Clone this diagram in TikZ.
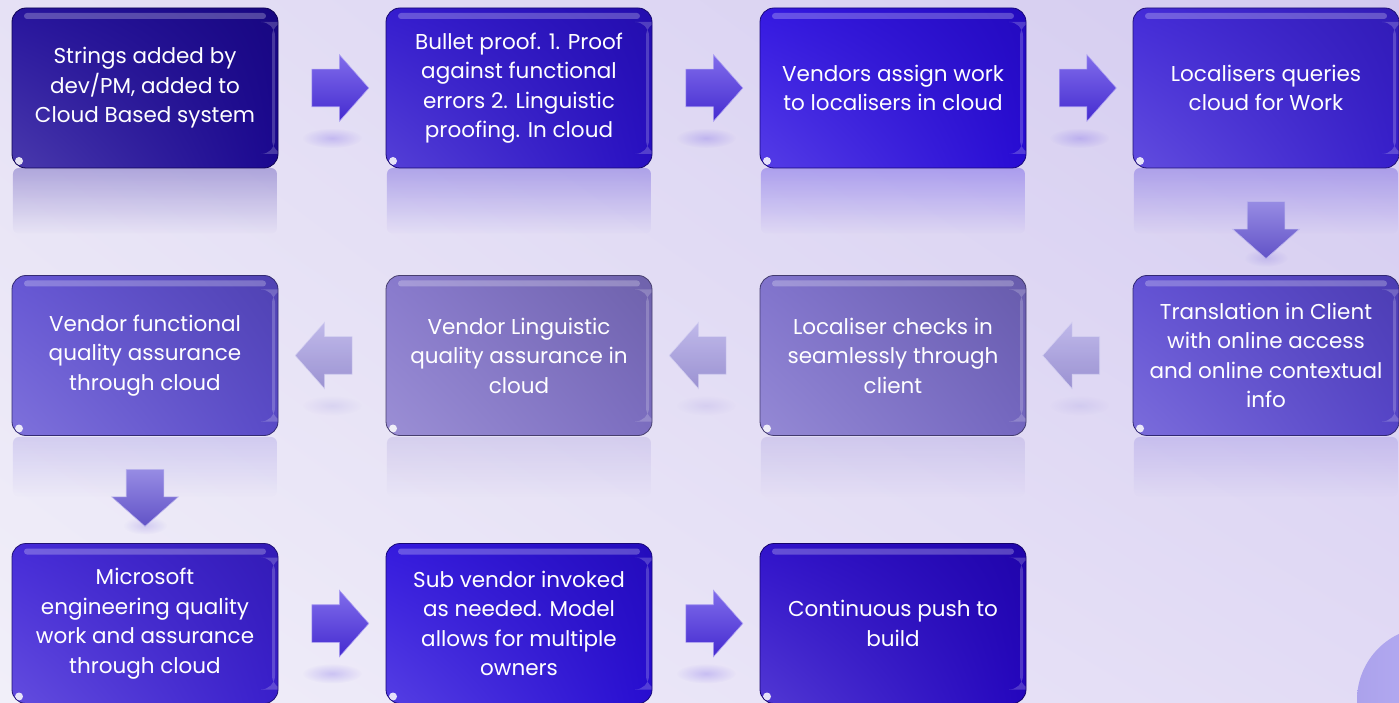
\documentclass[tikz,border=0pt]{standalone}
\usepackage{fontspec}
\setmainfont{Poppins}
\usetikzlibrary{shapes.arrows,fadings,shadings,calc}
\definecolor{bgA}{HTML}{E6E1F5}
\definecolor{bgB}{HTML}{D3CAF0}
\definecolor{bgC}{HTML}{F1EFF9}
\definecolor{bgD}{HTML}{E2DBF5}
\definecolor{k1}{HTML}{1C0898}
\definecolor{k2}{HTML}{2A10CC}
\definecolor{k3}{HTML}{2A0CE0}
\definecolor{k4}{HTML}{3A20D6}
\definecolor{k5}{HTML}{5A48D2}
\definecolor{k6}{HTML}{7A6CCA}
\definecolor{k7}{HTML}{8273CA}
\definecolor{k8}{HTML}{5E4ED2}
\definecolor{k9}{HTML}{3C20D6}
\definecolor{k10}{HTML}{2A0EDC}
\definecolor{k11}{HTML}{2606C8}
\definecolor{ar1}{HTML}{4A2EE2}
\definecolor{ar2}{HTML}{6A5AD8}
\definecolor{ar3}{HTML}{A096E0}
\definecolor{circ}{HTML}{B4AAF8}
\tikzfading[name=reflfade, top color=transparent!45, bottom color=transparent!100]
\tikzfading[name=softblob, inner color=transparent!40, outer color=transparent!100]
\tikzset{
  card/.style={rounded corners=14pt, minimum width=266pt, minimum height=160pt,
    inner sep=0pt, draw=#1!55!black, line width=0.8pt, text=white,
    font=\fontsize{21.5}{29.5}\selectfont, align=center,
    lower left=#1!80!white, upper right=#1!85!black,
    upper left=#1!95!white, lower right=#1!95!black,
    path picture={
      \fill[white, opacity=0.25, rounded corners=3pt]
        ([xshift=12pt,yshift=-5pt]path picture bounding box.north west) rectangle
        ([xshift=-12pt,yshift=-11pt]path picture bounding box.north east);
      \fill[white, opacity=0.2]
        ([xshift=-6pt,yshift=-14pt]path picture bounding box.north east) rectangle
        ([xshift=-3pt,yshift=14pt]path picture bounding box.south east);
      \fill[white, opacity=0.85]
        ([xshift=7pt,yshift=7pt]path picture bounding box.south west) circle (4pt);
    }},
  blockarrow/.style={single arrow, draw=#1!45!white, line width=0.6pt,
    top color=#1!70!white, bottom color=#1!92!black,
    minimum height=57pt, minimum width=66pt, single arrow head extend=14.5pt,
    inner xsep=0pt, inner ysep=18.5pt, single arrow tip angle=97},
  refl/.style={fill=#1, opacity=0.5, path fading=reflfade},
  blob/.style={fill=#1, opacity=0.35, path fading=softblob},
}
\begin{document}
\begin{tikzpicture}[x=1pt,y=1pt]
\useasboundingbox (0,0) rectangle (1399,702);
\clip (0,0) rectangle (1399,702);
\shade[upper left=bgA, upper right=bgB, lower left=bgC, lower right=bgD] (0,0) rectangle (1399,702);
\shade[left color=circ!95!black, right color=circ!85!white] (1430,2) circle (73);

% reflections
\foreach \cx/\cc in {145/k1,519/k2,893/k3,1266/k4}{
  \fill[refl=\cc, rounded corners=6pt] (\cx-132,534) rectangle (\cx+132,468);
}
\foreach \cx/\cc in {145/k8,519/k7,893/k6,1266/k5}{
  \fill[refl=\cc, opacity=0.32, rounded corners=6pt] (\cx-132,265) rectangle (\cx+132,205);
}

% boxes
\node[card=k1]  (b1)  at (145,614)   {Strings added by\\dev/PM, added to\\Cloud Based system};
\node[card=k2]  (b2)  at (519,614)   {Bullet proof. 1. Proof\\against functional\\errors 2. Linguistic\\proofing. In cloud};
\node[card=k3]  (b3)  at (893,614)   {Vendors assign work\\to localisers in cloud};
\node[card=k4]  (b4)  at (1266,614)  {Localisers queries\\cloud for Work};
\node[card=k5]  (b5)  at (1266,346.5) {Translation in Client\\with online access\\and online contextual\\info};
\node[card=k6]  (b6)  at (893,346.5) {Localiser checks in\\seamlessly through\\client};
\node[card=k7]  (b7)  at (519,346.5) {Vendor Linguistic\\quality assurance in\\cloud};
\node[card=k8]  (b8)  at (145,346.5) {Vendor functional\\quality assurance\\through cloud};
\node[card=k9]  (b9)  at (145,78.5)  {Microsoft\\engineering quality\\work and assurance\\through cloud};
\node[card=k10] (b10) at (519,78.5)  {Sub vendor invoked\\as needed. Model\\allows for multiple\\owners};
\node[card=k11] (b11) at (893,78.5)  {Continuous push to\\build};

% arrow blobs
\path ($(b1.east)!0.5!(b2.west)$) coordinate (m12)
      ($(b2.east)!0.5!(b3.west)$) coordinate (m23)
      ($(b3.east)!0.5!(b4.west)$) coordinate (m34)
      ($(b9.east)!0.5!(b10.west)$) coordinate (m910)
      ($(b10.east)!0.5!(b11.west)$) coordinate (m1011)
      ($(b5.west)!0.5!(b6.east)$) coordinate (m56)
      ($(b6.west)!0.5!(b7.east)$) coordinate (m67)
      ($(b7.west)!0.5!(b8.east)$) coordinate (m78)
      ($(b4.south)!0.5!(b5.north)$) coordinate (m45)
      ($(b8.south)!0.5!(b9.north)$) coordinate (m89);
\foreach \n in {m12,m23,m34,m910,m1011}{
  \fill[blob=ar1] ($(\n)+(0,-50)$) ellipse (30 and 10);
}
\foreach \n in {m56,m67,m78}{
  \fill[blob=ar3] ($(\n)+(0,-50)$) ellipse (30 and 10);
}
\foreach \n in {m45,m89}{
  \fill[blob=ar2] ($(\n)+(0,-36)$) ellipse (22 and 9);
}

% arrows
\node[blockarrow=ar1] (a12) at (m12) {};
\node[blockarrow=ar1] (a23) at (m23) {};
\node[blockarrow=ar1] (a34) at (m34) {};
\node[blockarrow=ar2, rotate=-90] (a45) at (m45) {};
\node[blockarrow=ar3, rotate=180, opacity=0.9] (a56) at (m56) {};
\node[blockarrow=ar3, rotate=180, opacity=0.9] (a67) at (m67) {};
\node[blockarrow=ar3, rotate=180, opacity=0.9] (a78) at (m78) {};
\node[blockarrow=ar2, rotate=-90] (a89) at (m89) {};
\node[blockarrow=ar1] (a910) at (m910) {};
\node[blockarrow=ar1] (a1011) at (m1011) {};
\end{tikzpicture}
\end{document}
